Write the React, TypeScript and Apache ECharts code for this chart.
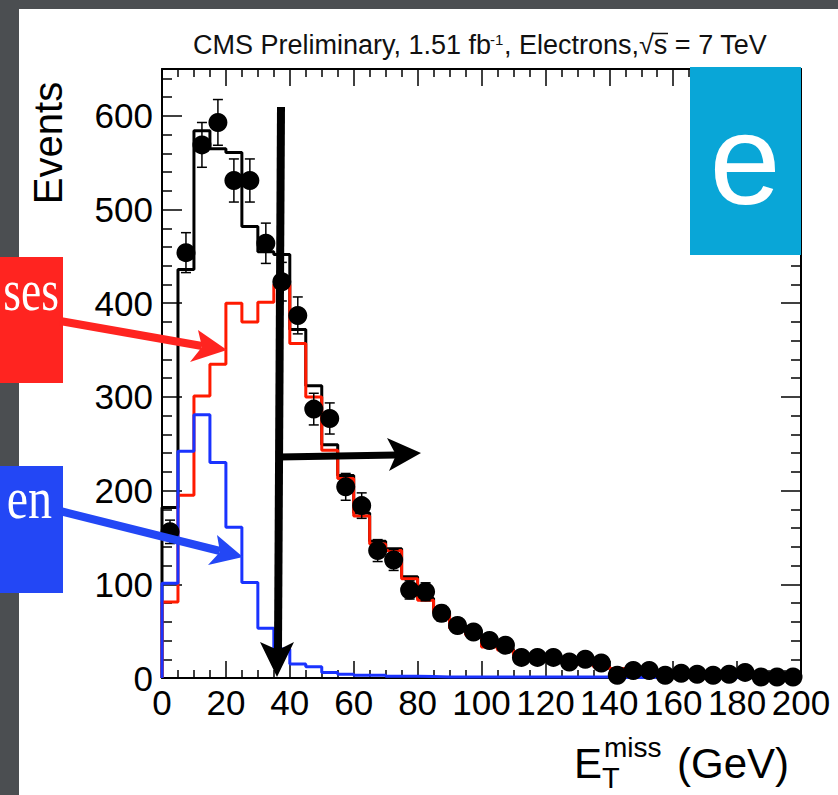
import React, { useEffect, useRef } from "react";
import * as echarts from "echarts";

// Bin lower edges (GeV), 5 GeV bins
const binLow = [0, 5, 10, 15, 20, 25, 30, 35, 40, 45, 50, 55, 60, 65, 70, 75, 80, 85, 90, 95,
  100, 105, 110, 115, 120, 125, 130, 135, 140, 145, 150, 155, 160, 165, 170, 175, 180, 185, 190, 195];
const binWidth = 5;

// Total MC (black)
const totalMC = [182, 436, 584, 565, 561, 482, 455, 452, 372, 312, 249, 216, 176, 146, 138, 108, 85, 71, 54, 47,
  34, 31, 25, 23, 21, 19, 16, 13, 10, 9, 8, 7, 6, 5, 4, 4, 3, 3, 2, 2];
// Red component
const redMC = [81, 195, 301, 335, 400, 380, 401, 420, 357, 300, 243, 213, 173, 143, 136, 106, 83, 70, 53, 46,
  33, 30, 24, 22, 20, 18, 15, 12, 10, 9, 8, 7, 6, 5, 4, 4, 3, 3, 2, 2];
// Blue component
const blueMC = [101, 242, 281, 230, 161, 102, 53, 31, 15, 12, 6, 4, 3, 3, 2, 2, 1.5, 1, 1, 1,
  1, 1, 1, 1, 1, 1, 1, 1, 0.5, 0.5, 0.5, 0.5, 0.5, 0.5, 0.5, 0.5, 0.5, 0.5, 0.5, 0.5];
// Data points
const dataCounts = [156, 454, 569, 593, 531, 531, 464, 423, 387, 287, 277, 204, 184, 136, 126, 94, 92, 69, 56, 49,
  40, 35, 22, 22, 22, 17, 20, 16, 3, 8, 8, 3, 5, 4, 3, 4, 6, 1, 1, 1];
const dataErr = [12.5, 21.3, 23.9, 24.4, 23, 23, 21.5, 20.6, 19.7, 16.9, 16.6, 14.3, 13.6, 11.7, 11.2, 9.7, 9.6, 8.3, 7.5, 7,
  6.3, 5.9, 4.7, 4.7, 4.7, 4.1, 4.5, 4, 1.7, 2.8, 2.8, 1.7, 2.2, 2, 1.7, 2, 2.4, 1, 1, 1];

const X_MIN = 0;
const X_MAX = 200;
const X_INTERVAL = 20;
const Y_MIN = 0;
const Y_MAX = 650;
const Y_INTERVAL = 100;

const SANS = "'Liberation Sans', Arial, Helvetica, sans-serif";
const SERIF = "'Liberation Serif', 'Times New Roman', serif";

function stepData(vals: number[]) {
  const pts: number[][] = [[binLow[0], 0]];
  vals.forEach((v, i) => pts.push([binLow[i], v]));
  pts.push([binLow[vals.length - 1] + binWidth, vals[vals.length - 1]]);
  return pts;
}

const RED = "#ff2420";
const BLUE = "#2347f5";

export default function App() {
  const ref = useRef<HTMLDivElement>(null);
  useEffect(() => {
    if (!ref.current) return;
    const chart = echarts.init(ref.current, undefined, { renderer: "svg" });

    const axisLine = { show: true, onZero: false, lineStyle: { color: "#000", width: 2 } };
    const xTick = { show: true, inside: true, length: 17, lineStyle: { color: "#000", width: 1.5 } };
    const xMinor = { show: true, splitNumber: 4, length: 8, lineStyle: { color: "#000", width: 1.5 } };
    const yTick = { show: true, inside: true, length: 20, lineStyle: { color: "#000", width: 1.5 } };
    const yMinor = { show: true, splitNumber: 5, length: 10, lineStyle: { color: "#000", width: 1.5 } };

    const centers = dataCounts.map((v, i) => [binLow[i] + binWidth / 2, v, dataErr[i]]);

    const option: any = {
      animation: false,
      backgroundColor: "#4b4e51",
      grid: { left: 162, right: 37, top: 69, bottom: 117, containLabel: false },
      xAxis: [
        {
          type: "value", min: X_MIN, max: X_MAX, interval: X_INTERVAL, position: "bottom",
          axisLine, axisTick: xTick, minorTick: xMinor,
          splitLine: { show: false }, minorSplitLine: { show: false },
          axisLabel: { show: true, color: "#000", fontSize: 35, fontFamily: SANS, margin: 7 },
        },
        {
          type: "value", min: X_MIN, max: X_MAX, interval: X_INTERVAL, position: "top",
          axisLine, axisTick: xTick, minorTick: xMinor,
          splitLine: { show: false }, minorSplitLine: { show: false },
          axisLabel: { show: false },
        },
      ],
      yAxis: [
        {
          type: "value", min: Y_MIN, max: Y_MAX, interval: Y_INTERVAL, position: "left",
          axisLine, axisTick: yTick, minorTick: yMinor,
          splitLine: { show: false }, minorSplitLine: { show: false },
          axisLabel: {
            show: true, color: "#000", fontSize: 35, fontFamily: SANS, margin: 9,
            showMaxLabel: false,
            formatter: (v: number) => (v % 100 === 0 ? String(v) : ""),
          },
        },
        {
          type: "value", min: Y_MIN, max: Y_MAX, interval: Y_INTERVAL, position: "right",
          axisLine, axisTick: yTick, minorTick: yMinor,
          splitLine: { show: false }, minorSplitLine: { show: false },
          axisLabel: { show: false },
        },
      ],
      series: [
        {
          type: "line", step: "end", symbol: "none", data: stepData(totalMC),
          lineStyle: { color: "#000", width: 3 }, z: 3,
        },
        {
          type: "line", step: "end", symbol: "none", data: stepData(redMC),
          lineStyle: { color: "#ff1a00", width: 3 }, z: 4,
        },
        {
          type: "line", step: "end", symbol: "none", data: stepData(blueMC),
          lineStyle: { color: "#1a33ff", width: 3 }, z: 5,
        },
        {
          type: "custom", data: centers, encode: { x: 0, y: 1 }, z: 6,
          renderItem: (params: any, api: any) => {
            const x = api.value(0), y = api.value(1), e = api.value(2);
            const top = api.coord([x, y + e]);
            const bot = api.coord([x, Math.max(0, y - e)]);
            const hw = 5;
            const st = { stroke: "#000", lineWidth: 1.5 };
            return {
              type: "group",
              children: [
                { type: "line", shape: { x1: top[0], y1: top[1], x2: bot[0], y2: bot[1] }, style: st },
                { type: "line", shape: { x1: top[0] - hw, y1: top[1], x2: top[0] + hw, y2: top[1] }, style: st },
                { type: "line", shape: { x1: bot[0] - hw, y1: bot[1], x2: bot[0] + hw, y2: bot[1] }, style: st },
              ],
            };
          },
        },
        {
          type: "scatter", data: centers.map((c) => [c[0], c[1]]), symbol: "circle", symbolSize: 19,
          itemStyle: { color: "#000", opacity: 1 }, z: 7,
        },
      ],
      graphic: {
        elements: [
          { type: "rect", shape: { x: 19, y: 9, width: 819, height: 786 }, style: { fill: "#fff" }, z: -100, silent: true },
          // Title
          { type: "text", x: 491, y: 45, z: 100, style: { text: "CMS Preliminary, 1.51 fb", fontSize: 27, fontFamily: SANS, fill: "#111", align: "right", verticalAlign: "middle" } },
          { type: "text", x: 490, y: 39, z: 100, style: { text: "-1", fontSize: 15, fontFamily: SANS, fill: "#111", align: "left", verticalAlign: "middle" } },
          { type: "text", x: 504, y: 45, z: 100, style: { text: ", Electrons,√s = 7 TeV", fontSize: 27, fontFamily: SANS, fill: "#111", align: "left", verticalAlign: "middle" } },
          { type: "line", z: 100, shape: { x1: 652, y1: 33.5, x2: 668, y2: 33.5 }, style: { stroke: "#111", lineWidth: 1.5 } },
          // Y title
          { type: "text", x: 48, y: 143, rotation: Math.PI / 2, z: 100, style: { text: "Events", fontSize: 40, fontFamily: SANS, fill: "#000", align: "center", verticalAlign: "middle" } },
          // X title
          { type: "text", x: 574, y: 763, z: 100, style: { text: "E", fontSize: 42, fontFamily: SANS, fill: "#000", align: "left", verticalAlign: "middle" } },
          { type: "text", x: 604, y: 747, z: 100, style: { text: "miss", fontSize: 28, fontFamily: SANS, fill: "#000", align: "left", verticalAlign: "middle" } },
          { type: "text", x: 602, y: 778, z: 100, style: { text: "T", fontSize: 29, fontFamily: SANS, fill: "#000", align: "left", verticalAlign: "middle" } },
          { type: "text", x: 789, y: 763, z: 100, style: { text: "(GeV)", fontSize: 42, fontFamily: SANS, fill: "#000", align: "right", verticalAlign: "middle" } },
          // Cyan "e" box
          { type: "rect", z: 90, shape: { x: 690, y: 67, width: 111, height: 188 }, style: { fill: "#09a6d7" } },
          { type: "text", x: 745, y: 159, z: 100, style: { text: "e", fontSize: 128, fontFamily: SANS, fill: "#fff", align: "center", verticalAlign: "middle" } },
          // Red box + arrow
          { type: "rect", z: 90, shape: { x: 0, y: 257, width: 63, height: 126 }, style: { fill: RED } },
          { type: "text", x: 59, y: 290, scaleX: 0.76, z: 100, style: { text: "ses", fontSize: 60, fontFamily: SERIF, fill: "#fff", align: "right", verticalAlign: "middle" } },
          { type: "line", z: 95, shape: { x1: 60, y1: 321, x2: 202, y2: 346 }, style: { stroke: RED, lineWidth: 8 } },
          { type: "polygon", z: 95, shape: { points: [[227, 350], [198, 330], [202, 347], [190, 362]] }, style: { fill: RED } },
          // Blue box + arrow
          { type: "rect", z: 90, shape: { x: 0, y: 466, width: 63, height: 127 }, style: { fill: BLUE } },
          { type: "text", x: 52, y: 498, scaleX: 0.8, z: 100, style: { text: "en", fontSize: 60, fontFamily: SERIF, fill: "#fff", align: "right", verticalAlign: "middle" } },
          { type: "line", z: 95, shape: { x1: 60, y1: 511, x2: 220, y2: 551 }, style: { stroke: BLUE, lineWidth: 8 } },
          { type: "polygon", z: 95, shape: { points: [[243, 557], [217, 535], [220, 552], [208, 565]] }, style: { fill: BLUE } },
          // Black vertical arrow
          { type: "line", z: 95, shape: { x1: 281, y1: 107, x2: 278, y2: 650 }, style: { stroke: "#000", lineWidth: 8 } },
          { type: "polygon", z: 95, shape: { points: [[277, 677], [260, 642], [278, 650], [294, 642]] }, style: { fill: "#000" } },
          // Black horizontal arrow
          { type: "line", z: 95, shape: { x1: 279, y1: 457, x2: 396, y2: 455 }, style: { stroke: "#000", lineWidth: 7 } },
          { type: "polygon", z: 95, shape: { points: [[421, 453], [387, 438], [396, 455], [389, 471]] }, style: { fill: "#000" } },
        ],
      },
    };
    chart.setOption(option);
    return () => chart.dispose();
  }, []);
  return (
    <div
      ref={ref}
      style={{ position: "fixed", left: 0, top: 0, width: 838, height: 795 }}
    />
  );
}
